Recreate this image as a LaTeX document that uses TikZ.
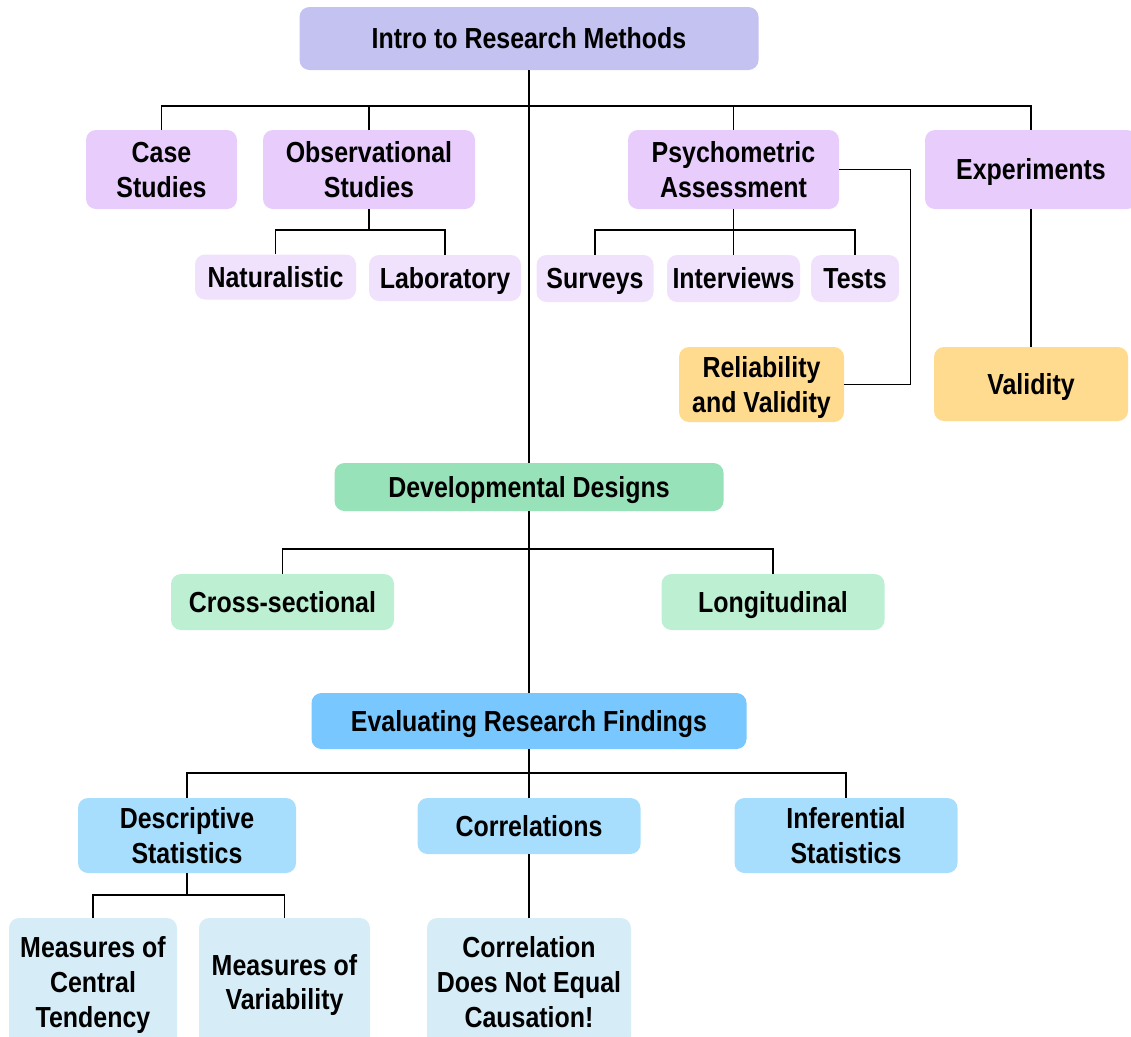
\documentclass[tikz,border=0pt]{standalone}
\usepackage{fontspec}
\newfontfamily\nar{Liberation Sans}[FakeStretch=0.86]
\newcommand\rl[1]{\rule[-1.4pt]{0pt}{18.4pt}\smash{#1}}
\definecolor{cRoot}{HTML}{C4C2F0}
\definecolor{cA}{HTML}{E7CCFC}
\definecolor{cB}{HTML}{F0E1FC}
\definecolor{cOr}{HTML}{FFDB8F}
\definecolor{cDev}{HTML}{97E2B9}
\definecolor{cDevC}{HTML}{BDEFD3}
\definecolor{cEv}{HTML}{78C7FE}
\definecolor{cEvC}{HTML}{A8DEFD}
\definecolor{cBot}{HTML}{D6EDF8}
\begin{document}
\begin{tikzpicture}[x=0.75pt,y=-0.75pt,
  box/.style={rounded corners=7.5pt, inner sep=0pt, align=center,
    font=\nar\bfseries\fontsize{21.75}{26.1}\selectfont, text=black},
  wh/.style 2 args={minimum width=#1*0.75pt, minimum height=#2*0.75pt},
  conn/.style={draw=black, line width=1.4pt}]
\useasboundingbox (0,0) rectangle (1131,1036);
\node[box,fill=cRoot,wh={459}{63}] (root) at (529,38.5) {\rl{Intro to Research Methods}};
\node[box,fill=cA,wh={151}{79}] (case) at (161.5,169.5) {\rl{Case}\\\rl{Studies}};
\node[box,fill=cA,wh={212}{79}] (obs) at (369,169.5) {\rl{Observational}\\\rl{Studies}};
\node[box,fill=cA,wh={211}{79}] (psy) at (733.5,169.5) {\rl{Psychometric}\\\rl{Assessment}};
\node[box,fill=cA,wh={212}{79}] (exp) at (1031,169.5) {\rl{Experiments}};
\node[box,fill=cB,wh={161}{45}] (nat) at (275.5,277) {\rl{Naturalistic}};
\node[box,fill=cB,wh={152}{46}] (lab) at (445,278) {\rl{Laboratory}};
\node[box,fill=cB,wh={117}{47}] (sur) at (595,278.5) {\rl{Surveys}};
\node[box,fill=cB,wh={133}{47}] (int) at (733.5,278.5) {\rl{Interviews}};
\node[box,fill=cB,wh={88}{47}] (tes) at (855,278.5) {\rl{Tests}};
\node[box,fill=cOr,wh={165}{75}] (rel) at (761.5,384.5) {\rl{Reliability}\\\rl{and Validity}};
\node[box,fill=cOr,wh={194}{74}] (val) at (1031,384) {\rl{Validity}};
\node[box,fill=cDev,wh={389}{48}] (dev) at (529,487) {\rl{Developmental Designs}};
\node[box,fill=cDevC,wh={223}{56}] (cro) at (282.5,602) {\rl{Cross-sectional}};
\node[box,fill=cDevC,wh={223}{56}] (lon) at (773,602) {\rl{Longitudinal}};
\node[box,fill=cEv,wh={435}{56}] (eva) at (529,721) {\rl{Evaluating Research Findings}};
\node[box,fill=cEvC,wh={218}{75}] (des) at (187,835.5) {\rl{Descriptive}\\\rl{Statistics}};
\node[box,fill=cEvC,wh={223}{56}] (cor) at (529,826) {\rl{Correlations}};
\node[box,fill=cEvC,wh={223}{75}] (inf) at (846,835.5) {\rl{Inferential}\\\rl{Statistics}};
\node[box,fill=cBot,wh={168}{128}] (mct) at (93,982) {\rl{Measures of}\\\rl{Central}\\\rl{Tendency}};
\node[box,fill=cBot,wh={171}{128}] (mv) at (284.5,982) {\rl{Measures of}\\\rl{Variability}};
\node[box,fill=cBot,wh={204}{128}] (cdn) at (529,982) {\rl{Correlation}\\\rl{Does Not Equal}\\\rl{Causation!}};
\coordinate (b1) at (529,106);
\coordinate (b2) at (369,230);
\coordinate (b3) at (733.5,230);
\coordinate (b4) at (529,549);
\coordinate (b5) at (529,773);
\coordinate (b6) at (187,895);
\coordinate (pr) at (910.5,169.5);
\draw[conn] (root.south) -- (dev.north);
\draw[conn] (case.north) |- (b1) -| (exp.north);
\draw[conn] (obs.north) -- (obs.north |- b1);
\draw[conn] (psy.north) -- (psy.north |- b1);
\draw[conn] (obs.south) -- (b2);
\draw[conn] (nat.north) |- (b2) -| (lab.north);
\draw[conn] (psy.south) -- (int.north);
\draw[conn] (sur.north) |- (b3) -| (tes.north);
\draw[conn] (psy.east) -- (pr) |- (rel.east);
\draw[conn] (exp.south) -- (val.north);
\draw[conn] (dev.south) -- (eva.north);
\draw[conn] (cro.north) |- (b4) -| (lon.north);
\draw[conn] (eva.south) -- (cor.north);
\draw[conn] (des.north) |- (b5) -| (inf.north);
\draw[conn] (cor.south) -- (cdn.north);
\draw[conn] (des.south) -- (b6);
\draw[conn] (mct.north) |- (b6) -| (mv.north);
\end{tikzpicture}
\end{document}
